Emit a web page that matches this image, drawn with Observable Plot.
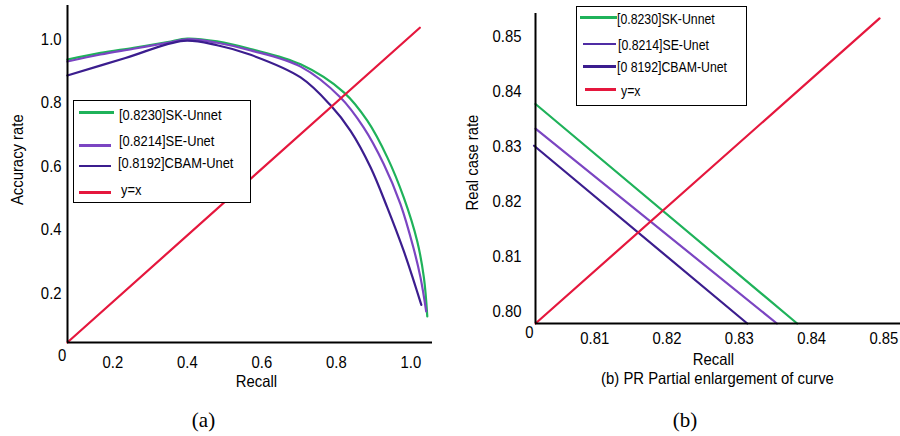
<!DOCTYPE html>
<html>
<head>
<meta charset="utf-8">
<script src="https://cdn.jsdelivr.net/npm/d3@7"></script>
<script src="https://cdn.jsdelivr.net/npm/@observablehq/plot@0.6"></script>
<style>
  html, body { margin: 0; padding: 0; background: #fff; }
  #root { position: relative; width: 900px; height: 436px; overflow: hidden; background: #fff;
          font-family: 'Liberation Sans', Arial, sans-serif; color: #000; }
  .panel { position: absolute; top: 0; }
  .legend { position: absolute; box-sizing: border-box; border: 1.6px solid #000; background: #fff; }
  .legend .sw { position: absolute; height: 2.2px; }
  .legend .lt { position: absolute; white-space: nowrap; transform: translateY(-50%) scaleX(0.86); transform-origin: 0 50%; line-height: 1; }
  .cap { position: absolute; font-family: 'Liberation Serif', 'Times New Roman', serif; font-size: 21px; transform: translate(-50%, -50%); }
</style>
</head>
<body>
<div id="root"></div>
<script>
// ---------- data ----------
const seriesNames = ["SK-Unnet", "SE-Unet", "CBAM-Unet", "y=x"];
const seriesColors = ["#1fb25a", "#7b45c2", "#3b1d8e", "#e5173d"];
const legendLabelsA = ["[0.8230]SK-Unnet", "[0.8214]SE-Unet", "[0.8192]CBAM-Unet", "y=x"];
const legendLabelsB = ["[0.8230]SK-Unnet", "[0.8214]SE-Unet", "[0 8192]CBAM-Unet", "y=x"];

// panel (a): [recall, accuracy]
const skA = [[0.078,0.936],[0.167,0.957],[0.256,0.973],[0.347,0.991],[0.400,1.002],[0.480,0.993],[0.570,0.969],[0.704,0.921],[0.820,0.833],[0.883,0.744],[0.937,0.628],[0.981,0.502],[1.017,0.365],[1.035,0.250],[1.044,0.129]];
const seA = [[0.078,0.930],[0.167,0.952],[0.256,0.970],[0.347,0.989],[0.400,1.000],[0.480,0.989],[0.570,0.965],[0.704,0.914],[0.811,0.817],[0.873,0.723],[0.927,0.608],[0.972,0.482],[1.007,0.344],[1.026,0.250],[1.041,0.145]];
const cbamA = [[0.078,0.886],[0.234,0.941],[0.390,0.995],[0.480,0.981],[0.570,0.951],[0.704,0.880],[0.784,0.793],[0.838,0.712],[0.892,0.597],[0.937,0.470],[0.981,0.334],[1.008,0.239],[1.028,0.165]];
const diagA = [[0.078,0.047],[1.024,1.036]];
const xTicksA = [0.2, 0.4, 0.6, 0.8, 1.0];
const yTicksA = [0.2, 0.4, 0.6, 0.8, 1.0];
const xDomainA = [0.0784, 1.058];
const yDomainA = [0.047, 1.106];

// panel (b): [recall, real case rate]
const skB = [[0.8018,0.8378],[0.8380,0.7978]];
const seB = [[0.8018,0.8333],[0.8352,0.7978]];
const cbamB = [[0.8016,0.8302],[0.8311,0.7978]];
const diagB = [[0.8018,0.7978],[0.8494,0.8534]];
const xTicksB = [0.81, 0.82, 0.83, 0.84, 0.85];
const yTicksB = [0.80, 0.81, 0.82, 0.83, 0.84, 0.85];
const xDomainB = [0.8018, 0.8523];
const yDomainB = [0.7978, 0.8543];

// ---------- drawing ----------
const root = document.getElementById("root");
const baseStyle = {fontFamily: "'Liberation Sans', Arial, sans-serif", fontSize: "16.5px", color: "#000", background: "transparent", overflow: "visible"};

function lines(sets) {
  return sets.map((pts, i) => Plot.line(pts, {x: d => d[0], y: d => d[1], stroke: seriesColors[i], strokeWidth: 2.2, curve: "catmull-rom"}));
}

const plotA = Plot.plot({
  width: 450, height: 395,
  marginLeft: 67, marginRight: 18, marginTop: 5, marginBottom: 53,
  style: baseStyle,
  x: {domain: xDomainA},
  y: {domain: yDomainA},
  marks: [
    Plot.axisX(xTicksA, {tickSize: 0, tickPadding: 14, tickFormat: d => d.toFixed(1), label: null}),
    Plot.axisY(yTicksA, {tickSize: 0, tickPadding: 6, tickFormat: d => d.toFixed(1), label: null}),
    ...lines([skA, seA, cbamA, diagA]),
    Plot.ruleX([xDomainA[0]], {stroke: "#000", strokeWidth: 2}),
    Plot.ruleY([yDomainA[0]], {stroke: "#000", strokeWidth: 2}),
    Plot.text(["0"], {text: d => d, frameAnchor: "bottom-left", dx: -5.3, dy: 13.3, lineAnchor: "middle", textAnchor: "middle"}),
    Plot.text(["Recall"], {text: d => d, frameAnchor: "bottom", dx: 6.5, dy: 39.5, lineAnchor: "middle"}),
    Plot.text(["Accuracy rate"], {text: d => d, frameAnchor: "left", rotate: -90, dx: -49.5, dy: -14.3, lineAnchor: "middle", textAnchor: "middle"})
  ]
});

const plotB = Plot.plot({
  width: 450, height: 395,
  marginLeft: 85, marginRight: 0, marginTop: 13, marginBottom: 72,
  style: baseStyle,
  x: {domain: xDomainB},
  y: {domain: yDomainB},
  marks: [
    Plot.axisX(xTicksB, {tickSize: 0, tickPadding: 9, tickFormat: d => d.toFixed(2), label: null}),
    Plot.axisY(yTicksB, {tickSize: 0, tickPadding: 14, tickFormat: d => d.toFixed(2), label: null}),
    ...lines([skB, seB, cbamB, diagB]),
    Plot.ruleX([xDomainB[0]], {stroke: "#000", strokeWidth: 2}),
    Plot.ruleY([yDomainB[0]], {stroke: "#000", strokeWidth: 2}),
    Plot.text(["0"], {text: d => d, frameAnchor: "bottom-left", dx: -6, dy: 9, lineAnchor: "middle", textAnchor: "middle"}),
    Plot.text(["Recall"], {text: d => d, frameAnchor: "bottom", dx: -4.5, dy: 35.8, lineAnchor: "middle"}),
    Plot.text(["(b) PR Partial enlargement of curve"], {text: d => d, frameAnchor: "bottom", dx: -0.5, dy: 55, lineAnchor: "middle"}),
    Plot.text(["Real case rate"], {text: d => d, frameAnchor: "left", rotate: -90, dx: -62.5, dy: -6, lineAnchor: "middle", textAnchor: "middle"})
  ]
});

function place(el, left) {
  el.classList.add("panel");
  el.style.left = left + "px";
  root.appendChild(el);
}
place(plotA, 0);
place(plotB, 450);

// the reference uses a slightly condensed sans face: compress glyphs horizontally
document.querySelectorAll("#root svg text").forEach(t => {
  const w = t.getComputedTextLength();
  if (w > 0) {
    t.setAttribute("textLength", (w * 0.9).toFixed(2));
    t.setAttribute("lengthAdjust", "spacingAndGlyphs");
  }
});

// legends (layout only)
function legend(box, labels, colors, rows, fontSize) {
  const div = document.createElement("div");
  div.className = "legend";
  Object.assign(div.style, {left: box.left + "px", top: box.top + "px", width: box.width + "px", height: box.height + "px"});
  rows.forEach((r, i) => {
    const sw = document.createElement("div");
    sw.className = "sw";
    Object.assign(sw.style, {left: r.x1 + "px", width: (r.x2 - r.x1) + "px", top: (r.ly - 1.1) + "px", background: colors[i]});
    div.appendChild(sw);
    const t = document.createElement("div");
    t.className = "lt";
    t.textContent = labels[i];
    Object.assign(t.style, {left: r.tx + "px", top: r.ty + "px", fontSize: fontSize + "px"});
    div.appendChild(t);
  });
  root.appendChild(div);
}

legend({left: 73, top: 99.5, width: 177.5, height: 103}, legendLabelsA, seriesColors, [
  {x1: 5, x2: 39.5, ly: 12, tx: 44.5, ty: 13.5},
  {x1: 4.5, x2: 37, ly: 45, tx: 44.5, ty: 39.8},
  {x1: 4.5, x2: 37, ly: 65.5, tx: 43.5, ty: 61.5},
  {x1: 4.5, x2: 37, ly: 92, tx: 47, ty: 88.5}
], 15);

legend({left: 575.5, top: 5.5, width: 171.5, height: 100.5}, legendLabelsB, [seriesColors[0], "#4f2ca4", seriesColors[2], seriesColors[3]], [
  {x1: 3, x2: 40.5, ly: 11, tx: 40.5, ty: 12.5},
  {x1: 6.5, x2: 39, ly: 37.5, tx: 41.5, ty: 38},
  {x1: 6.5, x2: 39, ly: 60, tx: 40, ty: 60},
  {x1: 8, x2: 39, ly: 83, tx: 44, ty: 84.5}
], 14.3);

// captions
[["(a)", 203.5, 420], ["(b)", 685, 420]].forEach(([s, x, y]) => {
  const c = document.createElement("div");
  c.className = "cap";
  c.textContent = s;
  c.style.left = x + "px";
  c.style.top = y + "px";
  root.appendChild(c);
});
</script>
</body>
</html>
